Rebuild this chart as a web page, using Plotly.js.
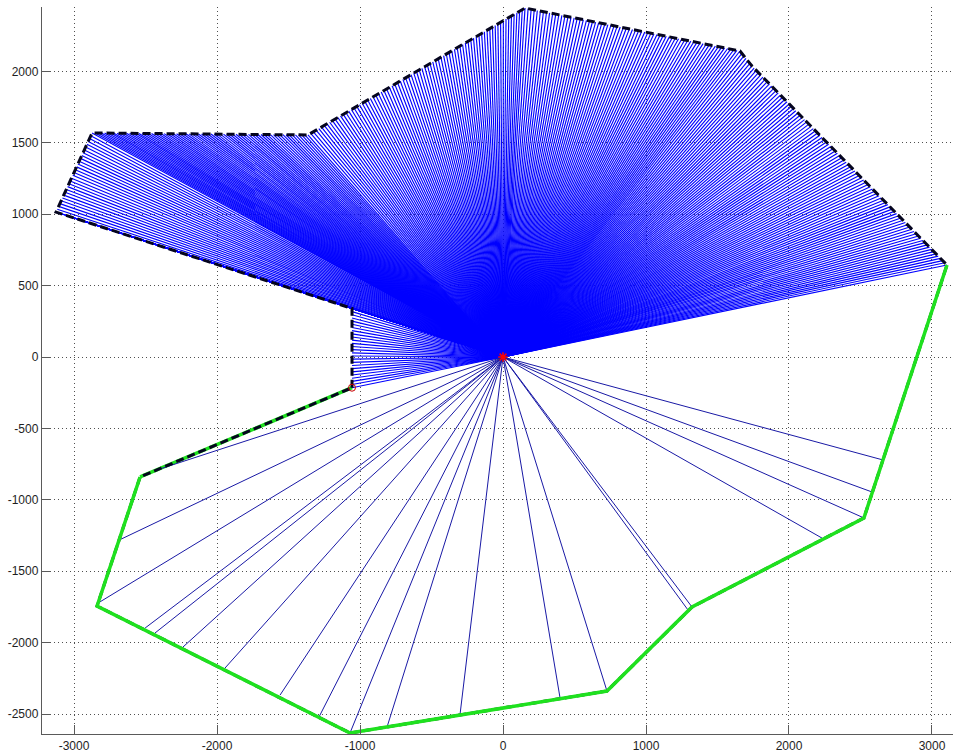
<!DOCTYPE html>
<html>
<head>
<meta charset="utf-8">
<script src="https://cdn.plot.ly/plotly-3.0.1.min.js"></script>
<style>
html,body{margin:0;padding:0;background:#fff;}
#chart{width:953px;height:753px;}
</style>
</head>
<body>
<div id="chart"></div>
<script>
// Visible boundary (black dashed), from the lower notch corner round the top to the right corner
const visX = [-1056, -1056, -3126, -2874, -1364, 154, 1657, 1741, 3105];
const visY = [-215, 340, 1015, 1569, 1555, 2444, 2143, 2038, 644];
// Lower boundary (green), from the right corner round the bottom back to the notch corner
const hidX = [3105, 2524, 1322, 727, -1070, -2839, -2538, -1056];
const hidY = [644, -1127, -1751, -2339, -2633, -1744, -840, -215];
// Boundary sample spacing of the dense rays (data units)
const sampleStep = 22;
// Sparse rays to the lower boundary: end points
const rayX = [-2420, -2685, -2832, -2503, -2434, -2238, -1944, -1559, -1287, -1070, -811, -301, 399, 727, 1294, 1322, 2231, 2524, 2580, 2657];
const rayY = [-791, -1282, -1723, -1898, -1933, -2031, -2178, -2367, -2521, -2633, -2591, -2507, -2388, -2339, -1772, -1751, -1268, -1127, -945, -721];
// Sensor position
const originX = [0];
const originY = [0];
// Axis ticks
const xTicks = [-3000, -2000, -1000, 0, 1000, 2000, 3000];
const xTickText = ['-3000', '-2000', '-1000', '0', '1000', '2000', '3000'];
const yTicks = [-2500, -2000, -1500, -1000, -500, 0, 500, 1000, 1500, 2000];
const yTickText = ['-2500', '-2000', '-1500', '-1000', '-500', '0', '500', '1000', '1500', '2000'];

// dense rays: to boundary samples along the visible boundary
const denseX = [], denseY = [];
for (let i = 0; i < visX.length - 1; i++) {
  const x0 = visX[i], y0 = visY[i], x1 = visX[i + 1], y1 = visY[i + 1];
  const len = Math.hypot(x1 - x0, y1 - y0);
  const n = Math.max(1, Math.round(len / sampleStep));
  for (let k = 0; k < n; k++) {
    const t = k / n;
    denseX.push(originX[0], x0 + (x1 - x0) * t, null);
    denseY.push(originY[0], y0 + (y1 - y0) * t, null);
  }
}
denseX.push(originX[0], visX[visX.length - 1], null);
denseY.push(originY[0], visY[visY.length - 1], null);

const sparseX = [], sparseY = [];
for (let i = 0; i < rayX.length; i++) {
  sparseX.push(originX[0], rayX[i], null);
  sparseY.push(originY[0], rayY[i], null);
}

const fullX = visX.concat(hidX.slice(1));
const fullY = visY.concat(hidY.slice(1));
const nHid = hidX.length;

const traces = [
  { // green under the dashed notch edge
    x: hidX.slice(nHid - 2), y: hidY.slice(nHid - 2), mode: 'lines',
    line: {color: 'rgb(30,225,30)', width: 3.5}, hoverinfo: 'skip'
  },
  {
    x: denseX, y: denseY, mode: 'lines',
    line: {color: 'rgb(0,0,255)', width: 1.15}, hoverinfo: 'skip'
  },
  {
    x: sparseX, y: sparseY, mode: 'lines',
    line: {color: 'rgb(25,25,165)', width: 1}, hoverinfo: 'skip'
  },
  {
    x: fullX, y: fullY, mode: 'lines',
    line: {color: 'rgb(5,5,30)', width: 3, dash: '8px,4px'}, hoverinfo: 'skip'
  },
  {
    x: hidX.slice(0, nHid - 1), y: hidY.slice(0, nHid - 1), mode: 'lines',
    line: {color: 'rgb(30,225,30)', width: 3.5}, hoverinfo: 'skip'
  },
  {
    x: [hidX[nHid - 1]], y: [hidY[nHid - 1]], mode: 'markers',
    marker: {symbol: 'circle-open', size: 7, color: 'rgb(200,0,0)', line: {width: 1, color: 'rgb(200,0,0)'}},
    hoverinfo: 'skip'
  },
  {
    x: originX, y: originY, mode: 'markers',
    marker: {symbol: 'asterisk-open', size: 8, color: 'red', line: {width: 1.5, color: 'red'}},
    hoverinfo: 'skip'
  }
];

const axisCommon = {
  showline: true, linecolor: 'rgb(90,90,90)', linewidth: 1.2,
  ticks: 'inside', ticklen: 9, tickcolor: 'rgb(90,90,90)', tickwidth: 1,
  showgrid: true, gridcolor: 'rgb(80,80,80)', gridwidth: 1, griddash: '1px,3px',
  zeroline: false, tickmode: 'array',
  tickfont: {family: 'Liberation Sans, Arial, sans-serif', size: 12, color: 'rgb(30,30,30)'}
};

const layout = {
  width: 953, height: 753,
  margin: {l: 42, r: 0, t: 7, b: 19, pad: 0},
  paper_bgcolor: 'white', plot_bgcolor: 'white',
  showlegend: false,
  xaxis: Object.assign({}, axisCommon, {range: [-3224, 3147], tickvals: xTicks, ticktext: xTickText}),
  yaxis: Object.assign({}, axisCommon, {range: [-2640, 2451], tickvals: yTicks, ticktext: yTickText})
};

Plotly.newPlot('chart', traces, layout, {displayModeBar: false, staticPlot: true});
</script>
</body>
</html>
